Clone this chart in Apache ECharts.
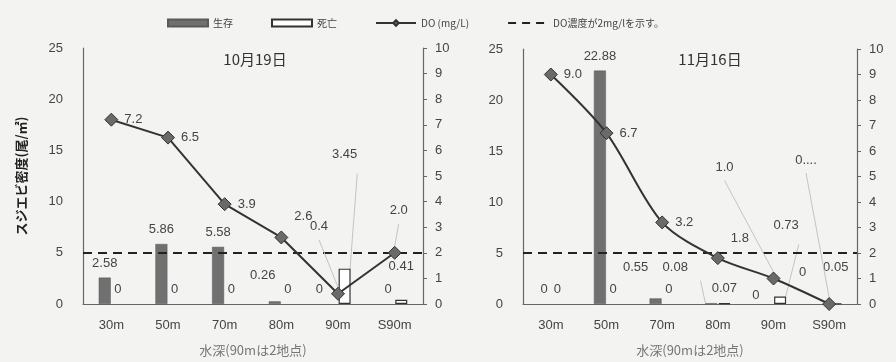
<!DOCTYPE html>
<html>
<head>
<meta charset="utf-8">
<script src="https://cdn.jsdelivr.net/npm/echarts@6/dist/echarts.min.js"></script>
<style>
html,body{margin:0;padding:0;background:#f3f3f1;}
#chart{width:896px;height:362px;}
</style>
</head>
<body>
<div id="chart"></div>
<script>
// ---- data ----
var categories = ['30m', '50m', '70m', '80m', '90m', 'S90m'];
var oct_alive = [2.58, 5.86, 5.58, 0.26, 0, 0];
var oct_dead  = [0, 0, 0, 0, 3.45, 0.41];
var oct_do    = [7.2, 6.5, 3.9, 2.6, 0.4, 2.0];
var nov_alive = [0, 22.88, 0.55, 0.08, 0, 0];
var nov_dead  = [0, 0, 0, 0.07, 0.73, 0.05];
var nov_do    = [9.0, 6.7, 3.2, 1.8, 1.0, 0.0];
var densityTicks = [0, 5, 10, 15, 20, 25];
var doTicks = [0, 1, 2, 3, 4, 5, 6, 7, 8, 9, 10];
var doThreshold = 2;

// ---- label placement (layout only) ----
var lblOff = {
  oa: {3: [-12, -11], 4: [-12, 0]},
  od: {4: [0, -100], 5: [0, -19]},
  oDo: {3: [0, -21], 4: [-41, -67], 5: [-18, -42]},
  na: {2: [-20, -16], 3: [-36, -21], 4: [-11, 6], 5: [-20, -17]},
  nd: {4: [6, -57], 5: [0, -21]},
  nDo: {3: [0, -20], 4: [-71, -111], 5: [-47, -144]}
};
var lblText = {nDo: {5: '0....'}};
var leader = {od: [4], oDo: [4, 5], na: [3], nd: [4], nDo: [4, 5]};

function build(vals, key, isBar) {
  return vals.map(function (v, i) {
    var item = {value: v};
    var off = lblOff[key] && lblOff[key][i];
    var txt = lblText[key] && lblText[key][i];
    var lab = {};
    if (off) lab.offset = off;
    if (txt) lab.formatter = txt;
    if (off || txt) item.label = lab;
    if (leader[key] && leader[key].indexOf(i) >= 0) {
      item.labelLine = {show: true, lineStyle: {color: '#c4c4c4', width: 1}};
    }
    if (isBar && v === 0) item.itemStyle = {borderWidth: 0, borderColor: 'rgba(0,0,0,0)', color: 'rgba(0,0,0,0)'};
    return item;
  });
}

var numFont = 'Liberation Sans';
var jpFont = 'Noto Sans CJK JP';
var labelBase = {show: true, fontFamily: numFont, fontSize: 13, color: '#444'};

function makeAxes(gi, withName) {
  var x = {
    type: 'category', gridIndex: gi, data: categories,
    axisLine: {show: true, lineStyle: {color: '#666', width: 1.2}},
    axisTick: {show: false},
    axisLabel: {color: '#444', fontFamily: numFont, fontSize: 13, margin: 15},
    name: '水深(90mは2地点)', nameLocation: 'middle', nameGap: 40,
    nameTextStyle: {color: '#777', fontFamily: jpFont, fontSize: 13}
  };
  var yl = {
    type: 'value', gridIndex: gi, min: 0, max: 25, interval: 5,
    axisLine: {show: true, lineStyle: {color: '#666', width: 1.2}},
    axisTick: {show: false}, splitLine: {show: false},
    axisLabel: {color: '#444', fontFamily: numFont, fontSize: 13, margin: 20,
      formatter: function (v) { return densityTicks.indexOf(v) >= 0 ? String(v) : ''; }}
  };
  if (withName) {
    yl.name = 'スジエビ密度(尾/㎡)';
    yl.nameLocation = 'middle';
    yl.nameGap = 55;
    yl.nameTextStyle = {color: '#222', fontFamily: jpFont, fontSize: 13, fontWeight: 'bold'};
  }
  var yr = {
    type: 'value', gridIndex: gi, min: 0, max: 10, interval: 1, position: 'right',
    axisLine: {show: true, lineStyle: {color: '#666', width: 1.2}},
    axisTick: {show: true, length: 4, lineStyle: {color: '#666'}},
    splitLine: {show: false},
    axisLabel: {color: '#444', fontFamily: numFont, fontSize: 13, margin: 12,
      formatter: function (v) { return doTicks.indexOf(v) >= 0 ? String(v) : ''; }}
  };
  return {x: x, yl: yl, yr: yr};
}

var a0 = makeAxes(0, true), a1 = makeAxes(1, false);

function seriesFor(gi, alive, dead, dov, ka, kd, kdo, smooth) {
  return [
    {
      name: '生存', type: 'bar', xAxisIndex: gi, yAxisIndex: gi * 2,
      data: build(alive, ka, true), barWidth: 12, barGap: '10%',
      itemStyle: {color: '#707070', borderColor: '#5a5a5a', borderWidth: 0.5},
      label: Object.assign({position: 'top', distance: 8}, labelBase)
    },
    {
      name: '死亡', type: 'bar', xAxisIndex: gi, yAxisIndex: gi * 2,
      data: build(dead, kd, true), barWidth: 12,
      itemStyle: {color: '#ffffff', borderColor: '#333', borderWidth: 1.2},
      label: Object.assign({position: 'top', distance: 8}, labelBase)
    },
    {
      name: 'DO (mg/L)', type: 'line', xAxisIndex: gi, yAxisIndex: gi * 2 + 1,
      data: build(dov, kdo, false), smooth: smooth ? 0.3 : false,
      symbol: 'diamond', symbolSize: 13,
      lineStyle: {color: '#333', width: 2},
      itemStyle: {color: '#6a6a6a', borderColor: '#333', borderWidth: 1},
      label: Object.assign({position: 'right', distance: 6,
        formatter: function (p) { return p.value.toFixed(1); }}, labelBase),
      z: 5
    },
    {
      name: 'DO濃度が2mg/lを示す。', type: 'line', xAxisIndex: gi, yAxisIndex: gi * 2 + 1,
      data: [], symbol: 'none',
      lineStyle: {color: '#222', width: 1.5, type: [8, 6]},
      itemStyle: {color: '#222'},
      markLine: {
        silent: true, symbol: 'none', label: {show: false},
        lineStyle: {color: '#222', width: 1.8, type: [9, 6]},
        data: [{yAxis: doThreshold}]
      }
    }
  ];
}

var chart = echarts.init(document.getElementById('chart'));
chart.setOption({
  backgroundColor: '#f3f3f1',
  animation: false,
  title: [
    {text: '10月19日', left: 250, top: 47, textAlign: 'center',
      textStyle: {fontFamily: jpFont, fontSize: 15, fontWeight: 'normal', color: '#333'}},
    {text: '11月16日', left: 705, top: 47, textAlign: 'center',
      textStyle: {fontFamily: jpFont, fontSize: 15, fontWeight: 'normal', color: '#333'}}
  ],
  legend: {
    left: 162, top: 13, itemGap: 38, itemWidth: 40, itemHeight: 7,
    textStyle: {fontFamily: jpFont, fontSize: 10, color: '#444'},
    data: [
      {name: '生存', icon: 'rect'},
      {name: '死亡', icon: 'rect'},
      {name: 'DO (mg/L)', itemStyle: {color: '#6a6a6a', borderColor: '#333'}},
      {name: 'DO濃度が2mg/lを示す。', itemStyle: {opacity: 0}}
    ]
  },
  grid: [
    {left: 83, right: 473, top: 48, bottom: 56},
    {left: 523, right: 39, top: 49, bottom: 53}
  ],
  xAxis: [a0.x, a1.x],
  yAxis: [a0.yl, a0.yr, a1.yl, a1.yr],
  series: [].concat(
    seriesFor(0, oct_alive, oct_dead, oct_do, 'oa', 'od', 'oDo', false),
    seriesFor(1, nov_alive, nov_dead, nov_do, 'na', 'nd', 'nDo', true)
  )
});
</script>
</body>
</html>
